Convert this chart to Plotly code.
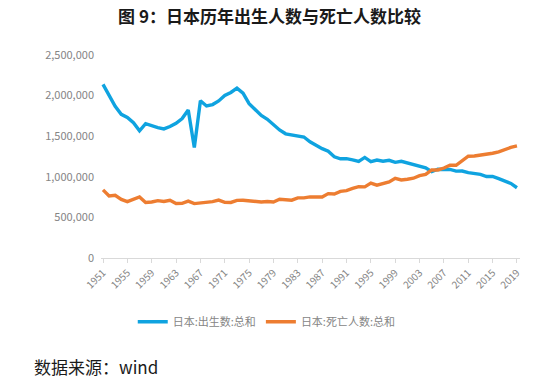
import plotly.graph_objects as go

years = list(range(1951, 2020))
births = [2137689, 2005162, 1868040, 1769580, 1730692, 1665278, 1566713, 1653469, 1626088, 1606041,
          1589372, 1618616, 1659521, 1716761, 1823697, 1360974, 1935647, 1871839, 1889815, 1934239,
          2000973, 2038682, 2091983, 2029989, 1901440, 1832617, 1755100, 1708643, 1642580, 1576889,
          1529455, 1515392, 1508687, 1489780, 1431577, 1382946, 1346658, 1314006, 1246802, 1221585,
          1223245, 1208989, 1188282, 1238328, 1187064, 1206555, 1191665, 1203147, 1177669, 1190547,
          1170662, 1153855, 1123610, 1110721, 1062530, 1092674, 1089818, 1091156, 1070035, 1071304,
          1050806, 1037231, 1029816, 1003539, 1005677, 976978, 946065, 918400, 865239]
deaths = [838998, 765068, 772547, 721491, 693523, 724460, 752445, 684189, 689959, 706599,
          695644, 710265, 670770, 673067, 700438, 670342, 675006, 686555, 693787, 712962,
          684521, 683751, 709416, 710510, 702275, 703270, 690074, 695821, 689664, 722801,
          720262, 711883, 740038, 740247, 752283, 750620, 751172, 793014, 788594, 820305,
          829797, 856643, 878532, 875933, 922139, 896211, 913402, 936484, 982031, 961653,
          970331, 982379, 1014951, 1028602, 1083796, 1084451, 1108334, 1142407, 1141865, 1197012,
          1253066, 1256359, 1268436, 1273004, 1290444, 1307748, 1340397, 1362470, 1381093]
tick_years = list(range(1951, 2020, 4))
y_ticks = [0, 500000, 1000000, 1500000, 2000000, 2500000]

series_names = ["日本:出生数:总和", "日本:死亡人数:总和"]

fig = go.Figure()
fig.add_trace(go.Scatter(x=years, y=births, mode="lines", name=series_names[0],
                         line=dict(color="#0FA3E0", width=3.4)))
fig.add_trace(go.Scatter(x=years, y=deaths, mode="lines", name=series_names[1],
                         line=dict(color="#ED7D31", width=3.4)))

font_family = "Noto Sans CJK SC, Noto Sans, sans-serif"
fig.update_layout(
    width=550, height=383,
    margin=dict(l=101, r=30, t=55, b=125),
    paper_bgcolor="white", plot_bgcolor="white",
    font=dict(family=font_family, color="#858585", size=11),
    title=dict(text="<b>图 9：日本历年出生人数与死亡人数比较</b>", x=0.49, xanchor="center",
               y=0.955, yanchor="middle",
               font=dict(size=17, color="#1a1a1a", family=font_family)),
    showlegend=True,
    legend=dict(orientation="h", xref="container", x=0.485, xanchor="center",
                yref="container", y=0.16, yanchor="middle",
                font=dict(size=11, color="#858585"), itemwidth=30,
                tracegroupgap=0, bgcolor="rgba(0,0,0,0)"),
    xaxis=dict(range=[1950.67, 2019.5], tickmode="array", tickvals=tick_years,
               ticktext=[str(y) for y in tick_years], tickangle=-45,
               showgrid=False, zeroline=False, showline=True, linecolor="#d9d9d9", linewidth=1,
               ticks="outside", ticklen=4, tickcolor="#d9d9d9",
               tickfont=dict(size=10, color="#858585")),
    yaxis=dict(range=[0, 2500000], tickmode="array", tickvals=y_ticks,
               tickformat=",", showgrid=False, zeroline=False, showline=False,
               ticklabelstandoff=6,
               tickfont=dict(size=11, color="#858585")),
)
fig.add_annotation(text="数据来源：wind", xref="paper", yref="paper",
                   x=(32 - 101) / 419, y=(258 - 366) / 203, xanchor="left", yanchor="middle",
                   showarrow=False,
                   font=dict(size=17, color="#1a1a1a", family=font_family))

fig.write_html("out.html", config={"displayModeBar": False},
               post_script="document.body.style.margin='0px';")
